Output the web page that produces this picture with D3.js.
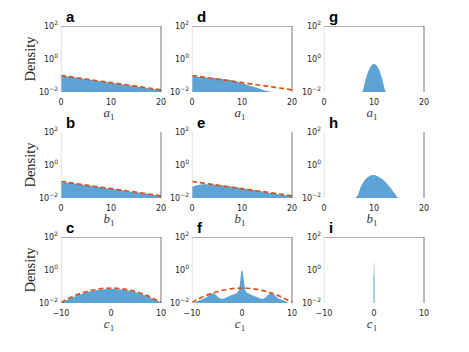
<!DOCTYPE html>
<html><head><meta charset="utf-8">
<script src="https://cdn.jsdelivr.net/npm/d3@7"></script>
<style>html,body{margin:0;padding:0;background:#fff;}svg{display:block;}</style>
</head><body>
<svg id="chart" width="469" height="352"></svg>
<script>
// ---------- DATA ----------
const panelLetters = ["a","d","g","b","e","h","c","f","i"];
const xVars = ["a","a","a","b","b","b","c","c","c"];
const xDomainAB = [0, 20];
const xDomainC = [-10, 10];
const xTicksAB = [0, 10, 20];
const xTicksC = [-10, 0, 10];
const yTicks = [1e-2, 1e0, 1e2];
const yTickExp = ["−2", "0", "2"];

// histogram bin ranges [lo, hi] and bin heights (density)
const binsA = [0, 20];
const histA = [0.097,0.092,0.086,0.085,0.078,0.077,0.070,0.069,0.066,0.061,0.060,0.055,0.054,0.050,0.048,0.047,0.043,0.042,0.040,0.037,0.036,0.034,0.032,0.031,0.029,0.028,0.027,0.025,0.024,0.023,0.022,0.020,0.020,0.019,0.017,0.017,0.016,0.015,0.0145,0.013];
const binsD = [0, 20];
const histD = [0.095,0.087,0.084,0.079,0.078,0.075,0.076,0.072,0.072,0.069,0.068,0.066,0.062,0.061,0.056,0.053,0.049,0.046,0.040,0.037,0.032,0.029,0.026,0.023,0.021,0.019,0.017,0.015,0.013,0.012,0.011,0.0102,0.0096,0.009,0,0,0,0,0,0];
const binsG = [7.5, 12.5];
const histG = [0.006,0.015,0.033,0.063,0.115,0.183,0.276,0.365,0.450,0.492,0.496,0.446,0.369,0.272,0.187,0.112,0.065,0.031,0.015,0.006];
const binsB = [0, 20];
const histB = [0.086,0.090,0.087,0.083,0.080,0.075,0.072,0.069,0.065,0.062,0.059,0.057,0.053,0.051,0.048,0.046,0.044,0.041,0.039,0.038,0.035,0.034,0.033,0.031,0.029,0.028,0.026,0.025,0.024,0.023,0.022,0.021,0.019,0.019,0.018,0.017,0.016,0.015,0.0145,0.014];
const binsE = [0, 20];
const histE = [0.050,0.057,0.062,0.066,0.067,0.069,0.068,0.068,0.066,0.065,0.062,0.060,0.058,0.055,0.052,0.050,0.048,0.045,0.043,0.040,0.038,0.036,0.034,0.032,0.031,0.029,0.027,0.026,0.024,0.023,0.021,0.020,0.019,0.018,0.017,0.016,0.015,0.0145,0.014,0.013];
const binsH = [6, 15];
const histH = [0.006,0.014,0.04,0.08,0.13,0.18,0.23,0.25,0.24,0.21,0.17,0.13,0.095,0.065,0.043,0.027,0.017,0.0105];
const binsC = [-10, 10];
const histC = [0.012,0.013,0.016,0.019,0.022,0.025,0.029,0.033,0.037,0.041,0.046,0.050,0.054,0.058,0.061,0.064,0.067,0.069,0.070,0.071,0.072,0.070,0.069,0.068,0.065,0.062,0.059,0.055,0.051,0.047,0.042,0.038,0.034,0.030,0.026,0.022,0.019,0.016,0.014,0.012];
const binsF = [-10, 10];
const histF = [0.009,0.010,0.011,0.012, 0.013,0.014,0.015,0.016, 0.017,0.019,0.020,0.022, 0.025,0.029,0.033,0.037,
  0.040,0.038,0.034,0.029, 0.024,0.021,0.019,0.018, 0.018,0.019,0.020,0.022, 0.024,0.026,0.028,0.030,
  0.032,0.034,0.036,0.039, 0.045,0.060,0.200,0.850, 0.900,0.220,0.065,0.046, 0.040,0.036,0.034,0.032,
  0.030,0.027,0.025,0.024, 0.022,0.020,0.019,0.018, 0.018,0.019,0.021,0.025, 0.029,0.034,0.038,0.041,
  0.038,0.033,0.028,0.024, 0.021,0.019,0.017,0.016, 0.015,0.014,0.013,0.012, 0.011,0.010,0.0095,0.009];
const binsI = [-0.1, 0.1];
const histI = [0.4, 3.0, 2.8, 0.45];

// reference density curves (dashed)
const refExpX = [0,2,4,6,8,10,12,14,16,18,20];
const refExpY = [0.1,0.0819,0.0670,0.0549,0.0449,0.0368,0.0301,0.0247,0.0202,0.0165,0.0135];
const refGaussX = [-10,-9,-8,-7,-6,-5,-4,-3,-2,-1,0,1,2,3,4,5,6,7,8,9,10];
const refGaussY = [0.0108,0.0158,0.0222,0.0299,0.0387,0.0484,0.0579,0.0666,0.0736,0.0782,0.0798,0.0782,0.0736,0.0666,0.0579,0.0484,0.0387,0.0299,0.0222,0.0158,0.0108];

// ---------- LAYOUT ----------
const colX = [61, 192, 324];
const rowY = [26, 132, 237];
const PW = 100, PH = 66;
const blue = "rgb(94,163,213)";
const red = "#d95319";

const panels = [
  {bins: binsA, hist: histA, ref: [refExpX, refExpY], dom: xDomainAB, ticks: xTicksAB},
  {bins: binsD, hist: histD, ref: [refExpX, refExpY], dom: xDomainAB, ticks: xTicksAB},
  {bins: binsG, hist: histG, ref: null, dom: xDomainAB, ticks: xTicksAB},
  {bins: binsB, hist: histB, ref: [refExpX, refExpY], dom: xDomainAB, ticks: xTicksAB},
  {bins: binsE, hist: histE, ref: [refExpX, refExpY], dom: xDomainAB, ticks: xTicksAB},
  {bins: binsH, hist: histH, ref: null, dom: xDomainAB, ticks: xTicksAB},
  {bins: binsC, hist: histC, ref: [refGaussX, refGaussY], dom: xDomainC, ticks: xTicksC},
  {bins: binsF, hist: histF, ref: [refGaussX, refGaussY], dom: xDomainC, ticks: xTicksC},
  {bins: binsI, hist: histI, ref: null, dom: xDomainC, ticks: xTicksC},
];

const svg = d3.select("#chart");
const defs = svg.append("defs");

panels.forEach((p, k) => {
  const r = Math.floor(k / 3), c = k % 3;
  const x0 = colX[c], y0 = rowY[r];
  const g = svg.append("g").attr("transform", `translate(${x0},${y0})`);
  const xs = d3.scaleLinear().domain(p.dom).range([0, PW]);
  const ys = d3.scaleLog().domain([1e-2, 1e2]).range([PH, 0]).clamp(true);

  const cid = "clip" + k;
  defs.append("clipPath").attr("id", cid).append("rect")
    .attr("x", 0).attr("y", 0).attr("width", PW).attr("height", PH);
  const inner = g.append("g").attr("clip-path", `url(#${cid})`);

  // histogram outline through bin centres
  const n = p.hist.length;
  const bw = (p.bins[1] - p.bins[0]) / n;
  const pts = [[p.bins[0], p.hist[0]]];
  p.hist.forEach((v, i) => pts.push([p.bins[0] + (i + 0.5) * bw, v]));
  pts.push([p.bins[1], p.hist[n - 1]]);
  const area = d3.area()
    .x(d => xs(d[0]))
    .y0(PH)
    .y1(d => d[1] > 0 ? ys(d[1]) : PH)
    .curve(d3.curveLinear);
  inner.append("path").datum(pts).attr("d", area).attr("fill", blue);

  if (p.ref) {
    const rp = p.ref[0].map((xv, i) => [xv, p.ref[1][i]]);
    inner.append("path").datum(rp)
      .attr("d", d3.line().x(d => xs(d[0])).y(d => ys(d[1])).curve(d3.curveMonotoneX))
      .attr("fill", "none").attr("stroke", red).attr("stroke-width", 1.7)
      .attr("stroke-dasharray", "5,3");
  }

  // frame
  if (r !== 1) {
    g.append("line").attr("x1", 0).attr("x2", PW).attr("y1", 0.5).attr("y2", 0.5)
      .attr("stroke", "#9a9a9a").attr("stroke-width", 0.8);
  }
  g.append("line").attr("x1", PW).attr("x2", PW).attr("y1", 0).attr("y2", PH)
    .attr("stroke", "#555").attr("stroke-width", 0.8);
  g.append("line").attr("x1", 0.3).attr("x2", 0.3).attr("y1", 0).attr("y2", PH)
    .attr("stroke", "#cfcfcf").attr("stroke-width", 0.6);

  // x ticks
  const xa = g.append("g").attr("font-family", "DejaVu Sans").attr("font-size", 8).attr("fill", "#262626");
  p.ticks.forEach(t => {
    xa.append("text").attr("x", xs(t)).attr("y", PH + 13).attr("text-anchor", "middle")
      .text(t < 0 ? "−" + Math.abs(t) : String(t));
  });
  // y ticks
  yTicks.forEach((t, i) => {
    const tx = xa.append("text").attr("x", -3).attr("y", ys(t) + 3).attr("text-anchor", "end");
    tx.append("tspan").text("10");
    tx.append("tspan").attr("dy", -4).attr("font-size", 6).text(yTickExp[i]);
  });

  // x label
  const xl = g.append("text").attr("x", PW / 2 - 2).attr("y", PH + 25)
    .attr("text-anchor", "middle").attr("font-family", "Liberation Serif")
    .attr("font-size", 13).attr("fill", "#3a3a3a");
  xl.append("tspan").attr("font-style", "italic").text(xVars[k]);
  xl.append("tspan").attr("dy", 3).attr("font-size", 9).text("1");

  // panel letter
  g.append("text").attr("x", 5).attr("y", -4.5)
    .attr("font-family", "Liberation Sans").attr("font-weight", "bold")
    .attr("font-size", 15).attr("fill", "#000").text(panelLetters[k]);

  // y label
  if (c === 0) {
    g.append("text").attr("transform", `translate(${31 - x0 + 4},${PH / 2}) rotate(-90)`)
      .attr("text-anchor", "middle").attr("font-family", "Liberation Serif")
      .attr("font-size", 14.5).attr("fill", "#262626").text("Density");
  }
});
</script>
</body></html>
